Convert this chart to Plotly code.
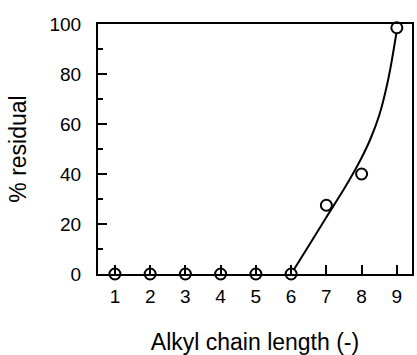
import plotly.graph_objects as go

chain_length = [1, 2, 3, 4, 5, 6, 7, 8, 9]
residual = [0, 0, 0, 0, 0, 0, 27.5, 40, 98.5]

fit_x = [6, 6.5, 7, 7.5, 7.75, 8, 8.25, 8.5, 8.75, 9.0]
fit_y = [0, 11.3, 22.7, 34, 40, 46.5, 54, 63.5, 77.5, 97.5]

x_ticks = [1, 2, 3, 4, 5, 6, 7, 8, 9]
y_ticks = [0, 20, 40, 60, 80, 100]

FONT = "Liberation Sans, Arial, sans-serif"

fig = go.Figure()
fig.add_trace(go.Scatter(
    x=fit_x, y=fit_y, mode="lines",
    line=dict(color="black", width=2, shape="spline", smoothing=1),
    showlegend=False, hoverinfo="skip",
))
fig.add_trace(go.Scatter(
    x=chain_length, y=residual, mode="markers",
    marker=dict(symbol="circle", size=11, color="white",
                line=dict(color="black", width=2)),
    showlegend=False, cliponaxis=False,
))

fig.update_layout(
    width=417, height=355,
    margin=dict(l=98, r=3, t=24, b=80),
    paper_bgcolor="white", plot_bgcolor="white",
    font=dict(family=FONT, color="black", size=19),
    xaxis=dict(
        range=[0.52, 9.43], tickvals=x_ticks, ticktext=[str(v) for v in x_ticks],
        ticks="inside", ticklen=9, tickwidth=2, tickcolor="black",
        showline=True, linewidth=2, linecolor="black", mirror=True,
        showgrid=False, zeroline=False,
        ticklabelstandoff=4,
        title=dict(text="Alkyl chain length (-)", font=dict(size=23), standoff=29),
    ),
    yaxis=dict(
        range=[0, 100], tickvals=y_ticks, ticktext=[str(v) for v in y_ticks],
        ticks="inside", ticklen=9, tickwidth=2, tickcolor="black",
        minor=dict(ticks="inside", ticklen=5, tickwidth=2, tickcolor="black", dtick=10, showgrid=False),
        showline=True, linewidth=2, linecolor="black", mirror=True,
        showgrid=False, zeroline=False,
        ticklabelstandoff=11,
        title=dict(text="% residual", font=dict(size=23), standoff=16),
    ),
)

fig.write_html("out.html")
